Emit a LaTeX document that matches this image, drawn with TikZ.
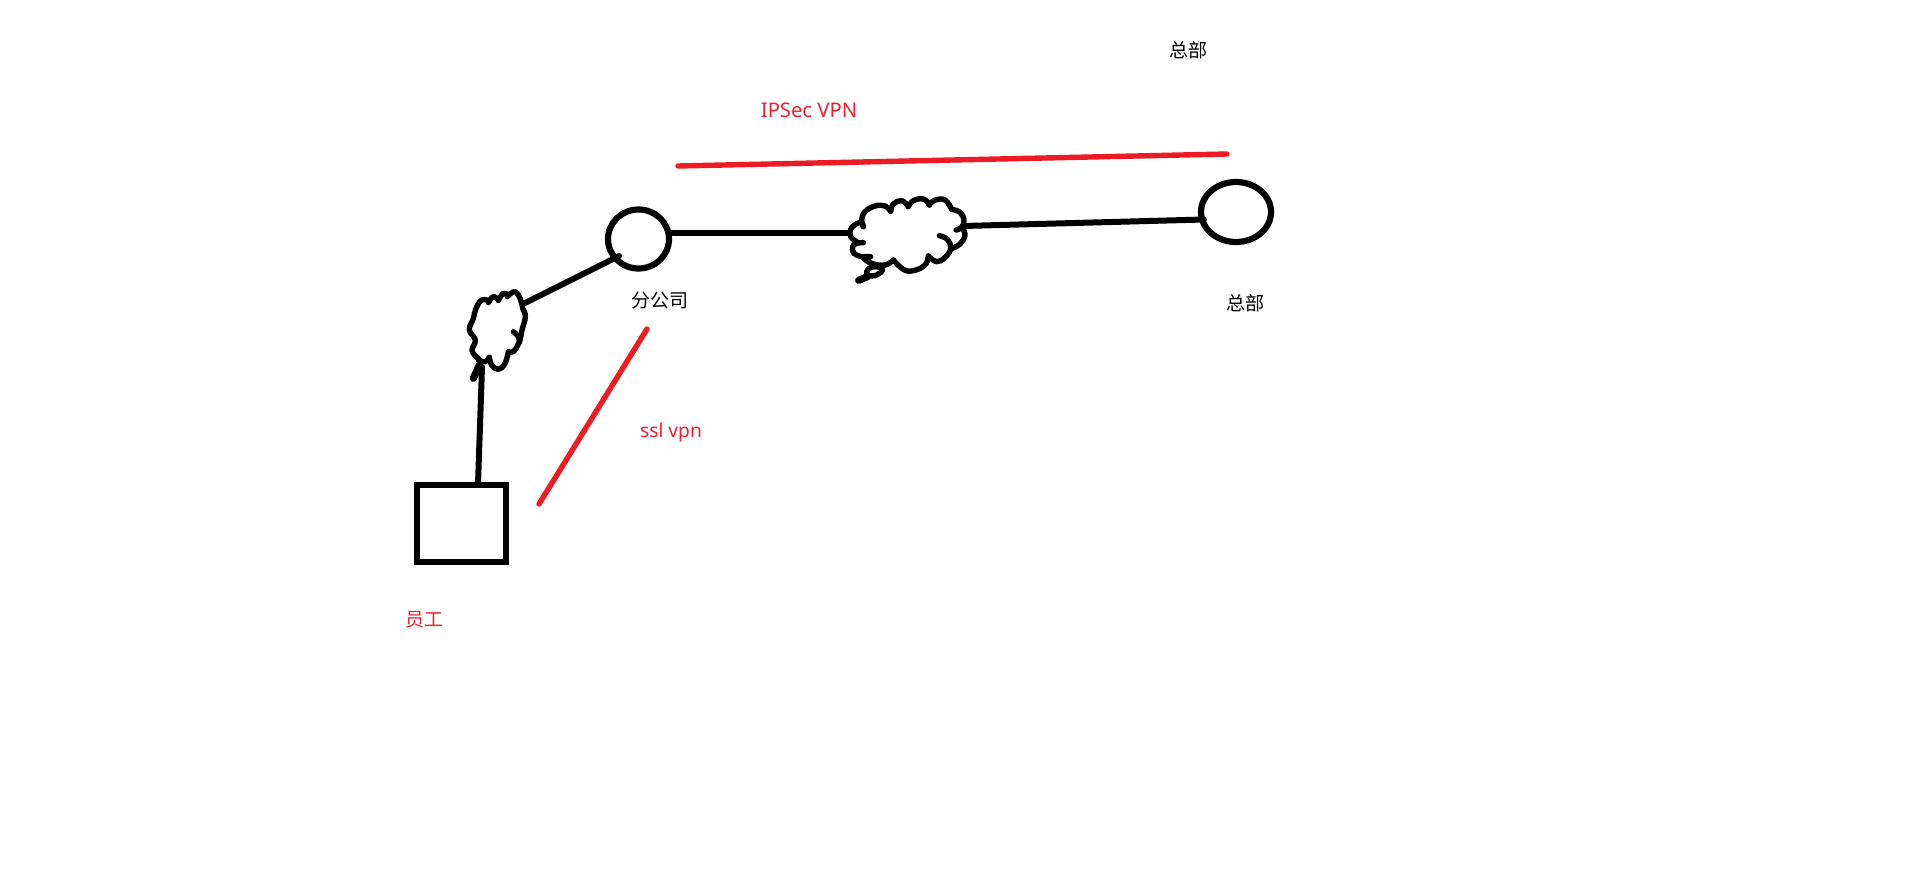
\documentclass[tikz,border=0pt]{standalone}
\usepackage{fontspec}
\setmainfont{Noto Sans}
\newfontfamily\cjk{Noto Sans CJK SC}
\usetikzlibrary{shapes.geometric}
\definecolor{penred}{HTML}{ED1C24}
\definecolor{txtred}{HTML}{F02030}
\tikzset{
  blk/.style={draw=black,line width=3pt,line cap=round,line join=round},
  cl/.style={draw=black,line width=2.7pt,line cap=round,line join=round},
  redl/.style={draw=penred,line width=2.7pt,line cap=round},
  ring/.style={ellipse,draw=black,line width=3.1pt,inner sep=0pt,outer sep=0pt},
  term/.style={rectangle,draw=black,line width=3pt,inner sep=0pt,outer sep=0pt,minimum width=44.5pt,minimum height=38.5pt},
  lab/.style={inner sep=0pt,font=\cjk\fontsize{9.5}{11}\selectfont},
  labr/.style={lab,text=txtred},
  labl/.style={inner sep=0pt,text=txtred,font=\fontsize{9.6}{11}\selectfont},
}
\begin{document}
\begin{tikzpicture}[x=0.5pt,y=-0.5pt]
\useasboundingbox (0,0) rectangle (1914,889);
\fill[white] (0,0) rectangle (1914,889);
% nodes
\node[ring,minimum width=30.5pt,minimum height=29.5pt] (branch) at (638.5,239) {};
\node[ring,minimum width=35pt,minimum height=30pt] (hq) at (1236,212) {};
\node[term] (staff) at (461,523) {};
% connector ends
\coordinate (branchE) at (670,233);
\coordinate (branchIn) at (619,256);
\coordinate (smallE) at (523,304);
\coordinate (smallS) at (482,367);
\coordinate (bigW) at (850,233);
\coordinate (bigE) at (963,226);
\coordinate (hqIn) at (1204,219.5);
\coordinate (staffN) at (478,484);
\coordinate (ra) at (678,166);
\coordinate (rb) at (1227,154);
\coordinate (sa) at (647,329);
\coordinate (sb) at (539,504);
% big cloud
\begin{scope}[shift={(830,170)},x=0.1667pt,y=-0.1667pt]
\draw[cl] plot[smooth,tension=0.7] coordinates {(100,170)(95,150)(105,125)(135,108)(165,108)(182,124)};
\draw[cl] plot[smooth,tension=0.7] coordinates {(182,124)(190,102)(215,92)(235,110)};
\draw[cl] plot[smooth,tension=0.7] coordinates {(235,110)(250,92)(280,87)(298,105)};
\draw[cl] plot[smooth,tension=0.7] coordinates {(298,105)(315,90)(345,90)(365,118)};
\draw[cl] plot[smooth,tension=0.7] coordinates {(365,118)(390,127)(402,150)(395,172)(378,180)};
\draw[cl] plot[smooth,tension=0.7] coordinates {(395,172)(405,195)(390,222)(365,235)};
\draw[cl] plot[smooth,tension=0.7] coordinates {(328,197)(352,208)(362,235)(345,262)(320,275)(295,258)};
\draw[cl] plot[smooth,tension=0.7] coordinates {(295,258)(285,285)(250,302)(220,298)(190,270)};
\draw[cl] plot[smooth,tension=0.7] coordinates {(190,270)(165,285)(125,280)(100,262)(122,260)};
\draw[cl] plot[smooth,tension=0.7] coordinates {(100,262)(72,250)(68,230)(80,220)(100,218)};
\draw[cl] plot[smooth,tension=0.7] coordinates {(80,215)(62,200)(62,178)(78,162)(95,158)(100,170)};
\draw[cl] plot[smooth cycle,tension=0.7] coordinates {(115,296)(140,290)(158,298)(140,315)(112,315)};
\draw[cl,line width=3.6pt] (86,331) -- (112,320);
\end{scope}
% small cloud
\begin{scope}[shift={(450,280)},x=0.1667pt,y=-0.1667pt]
\draw[cl] plot[smooth,tension=0.7] coordinates {(85,235)(66,212)(76,180)(58,150)(70,115)(78,85)(95,60)(115,62)};
\draw[cl] plot[smooth,tension=0.7] coordinates {(115,68)(130,50)(145,60)};
\draw[cl] plot[smooth,tension=0.7] coordinates {(145,62)(160,40)(175,45)};
\draw[cl] plot[smooth,tension=0.7] coordinates {(172,50)(195,35)(212,60)(218,85)(226,110)(216,150)(208,185)(190,215)(175,215)};
\draw[cl] plot[smooth,tension=0.7] coordinates {(190,155)(205,170)(208,188)};
\draw[cl] plot[smooth,tension=0.7] coordinates {(175,215)(165,250)(145,268)(125,255)(118,232)};
\draw[cl] plot[smooth,tension=0.7] coordinates {(118,232)(105,245)(85,240)};
\draw[cl,line width=3.6pt] (70,295) -- (88,255);
\end{scope}
% connectors
\draw[blk] (staffN) -- (smallS);
\draw[blk] (smallE) -- (branchIn);
\draw[blk] (branchE) -- (bigW);
\draw[blk] (bigE) -- (hqIn);
\draw[redl] (ra) -- (rb);
\draw[redl] (sa) -- (sb);
% labels
\node[labl,font=\fontsize{10.1}{12}\selectfont] (ipsec) at (809,110) {IPSec VPN};
\node[labl,anchor=base] (ssl) at (671,437) {ssl vpn};
\node[labr] (emp) at (424,620) {员工};
\node[lab] (fgs) at (660,300.5) {分公司};
\node[lab] (zb1) at (1245,303) {总部};
\node[lab] (zb2) at (1188,50.5) {总部};
\end{tikzpicture}
\end{document}
